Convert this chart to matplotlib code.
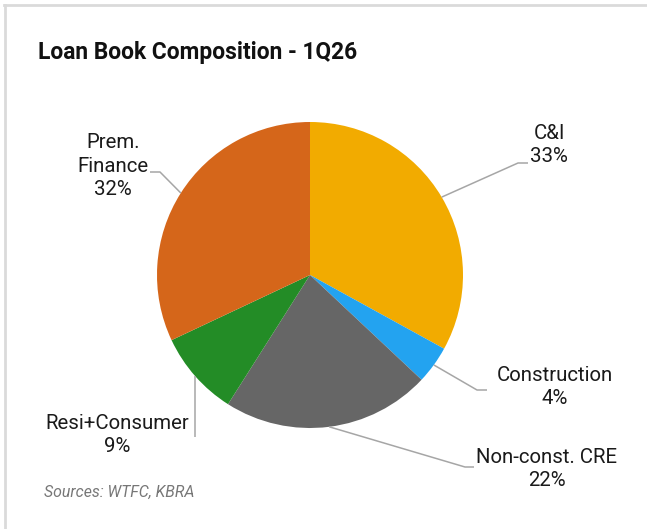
import numpy as np
import matplotlib.pyplot as plt
from matplotlib.lines import Line2D

plt.rcParams['font.family'] = ['Roboto', 'DejaVu Sans']

categories = ['C&I', 'Construction', 'Non-const. CRE', 'Resi+Consumer', 'Prem.\nFinance']
shares = [33, 4, 22, 9, 32]
colors = ['#F2AB00', '#23A3F0', '#666666', '#238C26', '#D5661A']

W, H = 647, 529
fig = plt.figure(figsize=(W / 100, H / 100), dpi=100)
ax = fig.add_axes([0, 0, 1, 1])

def py(y):
    # pixel row (from top) -> data y
    return H - y

cx, cy, r = 310, 275, 153
wedges, _ = ax.pie(shares, colors=colors, startangle=90, counterclock=False,
                   center=(cx, py(cy)), radius=r, frame=True,
                   wedgeprops=dict(linewidth=0))
ax.set_xlim(0, W)
ax.set_ylim(0, H)
ax.axis('off')

# label block centre, then leader elbow / end points (pixels)
label_pos = [(549, 145), (555, 387), (547, 469), (117, 435), (113, 166)]
leaders = [
    [(518, 163), (528, 163)],
    [(477, 390), (487, 390)],
    [(465, 467), (474, 467)],
    [(193, 437)],
    [(160, 172), (150, 172)],
]

for w, name, val, (lx, ly), pts in zip(wedges, categories, shares, label_pos, leaders):
    ang = np.deg2rad((w.theta1 + w.theta2) / 2)
    sx = cx + r * np.cos(ang)
    sy = py(cy) + r * np.sin(ang)
    xs = [sx] + [p[0] for p in pts]
    if len(pts) == 1:
        xs = [sx, sx]
    ys = [sy] + [py(p[1]) for p in pts]
    ax.plot(xs, ys, color='#a6a6a6', lw=1.1, solid_capstyle='butt')
    ax.text(lx, py(ly), f'{name}\n{val}%', ha='center', va='center',
            multialignment='center', fontsize=14.7, color='#1a1a1a', linespacing=1.28)

fig.text(38 / W, 1 - 53 / H, 'Loan Book Composition - 1Q26', fontsize=16.4,
         fontweight='bold', color='#111111', ha='left', va='center')
fig.text(44 / W, 1 - 492 / H, 'Sources: WTFC, KBRA', fontsize=11.4,
         style='italic', color='#777777', ha='left', va='center')

# light frame along top and left
fig.add_artist(Line2D([4 / W, 1], [1 - 5 / H, 1 - 5 / H], color='#dadada', lw=2,
                      transform=fig.transFigure))
fig.add_artist(Line2D([5 / W, 5 / W], [0, 1 - 5 / H], color='#dadada', lw=2,
                      transform=fig.transFigure))

fig.savefig('out.png', dpi=100, facecolor='white')
